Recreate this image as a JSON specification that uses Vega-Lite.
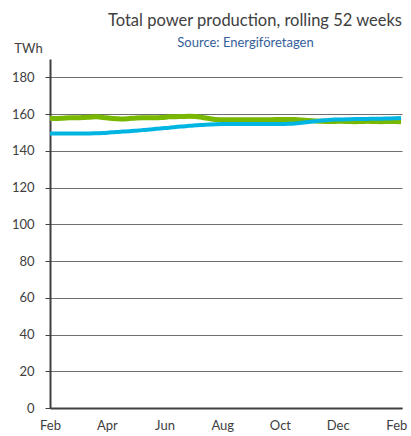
{
  "$schema": "https://vega.github.io/schema/vega-lite/v6.json",
  "width": 352,
  "height": 349,
  "autosize": "none",
  "padding": {"left": 50, "top": 59, "right": 9, "bottom": 28},
  "background": "white",
  "title": {
    "text": "Total power production, rolling 52 weeks",
    "anchor": "end",
    "frame": "group",
    "font": "Lato",
    "fontSize": 16.5,
    "fontWeight": "normal",
    "color": "#404040",
    "orient": "top",
    "offset": 7
  },
  "config": {
    "view": {"stroke": null},
    "axis": {"labelFont": "Lato", "titleFont": "Lato", "labelColor": "#404040", "titleColor": "#404040", "titleFontWeight": "normal"}
  },
  "data": {"values": [
    {"date": "2012-02-01", "previous": 157.7, "current": 149.5},
    {"date": "2012-02-08", "previous": 157.6, "current": 149.5},
    {"date": "2012-02-15", "previous": 157.8, "current": 149.5},
    {"date": "2012-02-22", "previous": 158.0, "current": 149.5},
    {"date": "2012-02-29", "previous": 158.0, "current": 149.5},
    {"date": "2012-03-07", "previous": 158.1, "current": 149.5},
    {"date": "2012-03-14", "previous": 158.3, "current": 149.5},
    {"date": "2012-03-21", "previous": 158.5, "current": 149.6},
    {"date": "2012-03-28", "previous": 158.2, "current": 149.7},
    {"date": "2012-04-04", "previous": 157.8, "current": 150.0},
    {"date": "2012-04-11", "previous": 157.5, "current": 150.3},
    {"date": "2012-04-18", "previous": 157.3, "current": 150.5},
    {"date": "2012-04-25", "previous": 157.6, "current": 150.7},
    {"date": "2012-05-02", "previous": 157.9, "current": 151.0},
    {"date": "2012-05-09", "previous": 158.0, "current": 151.3},
    {"date": "2012-05-16", "previous": 158.0, "current": 151.6},
    {"date": "2012-05-23", "previous": 158.0, "current": 152.0},
    {"date": "2012-05-30", "previous": 158.2, "current": 152.3},
    {"date": "2012-06-06", "previous": 158.5, "current": 152.6},
    {"date": "2012-06-13", "previous": 158.6, "current": 153.0},
    {"date": "2012-06-20", "previous": 158.7, "current": 153.3},
    {"date": "2012-06-27", "previous": 158.8, "current": 153.6},
    {"date": "2012-07-04", "previous": 158.7, "current": 153.9},
    {"date": "2012-07-11", "previous": 158.2, "current": 154.1},
    {"date": "2012-07-18", "previous": 157.6, "current": 154.3},
    {"date": "2012-07-25", "previous": 157.1, "current": 154.5},
    {"date": "2012-08-01", "previous": 156.9, "current": 154.6},
    {"date": "2012-08-08", "previous": 156.9, "current": 154.6},
    {"date": "2012-08-15", "previous": 156.9, "current": 154.6},
    {"date": "2012-08-22", "previous": 156.9, "current": 154.6},
    {"date": "2012-08-29", "previous": 156.9, "current": 154.6},
    {"date": "2012-09-05", "previous": 156.9, "current": 154.6},
    {"date": "2012-09-12", "previous": 156.9, "current": 154.6},
    {"date": "2012-09-19", "previous": 156.9, "current": 154.6},
    {"date": "2012-09-26", "previous": 157.0, "current": 154.6},
    {"date": "2012-10-03", "previous": 157.0, "current": 154.6},
    {"date": "2012-10-10", "previous": 157.0, "current": 154.7},
    {"date": "2012-10-17", "previous": 157.0, "current": 154.9},
    {"date": "2012-10-24", "previous": 156.8, "current": 155.3},
    {"date": "2012-10-31", "previous": 156.5, "current": 155.7},
    {"date": "2012-11-07", "previous": 156.3, "current": 156.1},
    {"date": "2012-11-14", "previous": 156.1, "current": 156.5},
    {"date": "2012-11-21", "previous": 156.0, "current": 156.8},
    {"date": "2012-11-28", "previous": 156.0, "current": 157.0},
    {"date": "2012-12-05", "previous": 156.1, "current": 157.1},
    {"date": "2012-12-12", "previous": 156.0, "current": 157.2},
    {"date": "2012-12-19", "previous": 155.9, "current": 157.3},
    {"date": "2012-12-26", "previous": 156.0, "current": 157.3},
    {"date": "2013-01-02", "previous": 156.1, "current": 157.4},
    {"date": "2013-01-09", "previous": 156.0, "current": 157.5},
    {"date": "2013-01-16", "previous": 155.9, "current": 157.5},
    {"date": "2013-01-23", "previous": 156.0, "current": 157.6},
    {"date": "2013-01-30", "previous": 156.0, "current": 157.7},
    {"date": "2013-02-06", "previous": 155.9, "current": 157.9}
  ]},
  "layer": [
    {
      "mark": {"type": "line", "color": "#78B800", "strokeWidth": 5, "interpolate": "monotone"},
      "encoding": {
        "x": {
          "field": "date", "type": "temporal",
          "scale": {"type": "utc", "domain": [{"year": 2012, "month": 2, "date": 1, "utc": true}, {"year": 2013, "month": 2, "date": 7, "utc": true}]},
          "axis": {
            "orient": "bottom", "title": null, "grid": false, "ticks": false,
            "values": [
              {"year": 2012, "month": 2, "date": 1, "utc": true},
              {"year": 2012, "month": 4, "date": 1, "utc": true},
              {"year": 2012, "month": 6, "date": 1, "utc": true},
              {"year": 2012, "month": 8, "date": 1, "utc": true},
              {"year": 2012, "month": 10, "date": 1, "utc": true},
              {"year": 2012, "month": 12, "date": 1, "utc": true},
              {"year": 2013, "month": 2, "date": 1, "utc": true}
            ],
            "labelExpr": "utcFormat(datum.value, '%b')",
            "labelFontSize": 13, "labelPadding": 11, "labelFlush": false, "labelOverlap": false,
            "domainColor": "#404040", "domainWidth": 2
          }
        },
        "y": {
          "field": "previous", "type": "quantitative",
          "scale": {"domain": [0, 190], "nice": false},
          "axis": {
            "title": "TWh", "titleAngle": 0, "titleX": -22, "titleY": -7, "titleAlign": "center", "titleBaseline": "alphabetic", "titleFontSize": 13,
            "values": [0, 20, 40, 60, 80, 100, 120, 140, 160, 180],
            "labelOverlap": false,
            "grid": true, "gridColor": "#6f6f6f", "gridWidth": 1,
            "tickSize": 5, "tickColor": "#404040", "tickWidth": 1,
            "domainColor": "#404040", "domainWidth": 2,
            "labelFontSize": 13, "labelPadding": 11
          }
        }
      }
    },
    {
      "mark": {"type": "line", "color": "#00B5E2", "strokeWidth": 4, "interpolate": "monotone"},
      "encoding": {
        "x": {
          "field": "date", "type": "temporal",
          "scale": {"type": "utc"},
          "axis": {
            "orient": "top", "title": "Source: Energiföretagen", "labels": false, "ticks": false, "domain": false, "grid": false,
            "titleColor": "#355E9A", "titleFontSize": 13, "titleX": 195, "titleY": -13, "titleAlign": "center", "titleBaseline": "alphabetic"
          }
        },
        "y": {
          "field": "current", "type": "quantitative",
          "axis": {
            "title": "TWh", "titleAngle": 0, "titleX": -22, "titleY": -7, "titleAlign": "center", "titleBaseline": "alphabetic", "titleFontSize": 13,
            "values": [0, 20, 40, 60, 80, 100, 120, 140, 160, 180],
            "labelOverlap": false,
            "grid": true, "gridColor": "#6f6f6f", "gridWidth": 1,
            "tickSize": 5, "tickColor": "#404040", "tickWidth": 1,
            "domainColor": "#404040", "domainWidth": 2,
            "labelFontSize": 13, "labelPadding": 11
          }
        }
      }
    }
  ],
  "resolve": {"axis": {"x": "independent"}}
}
